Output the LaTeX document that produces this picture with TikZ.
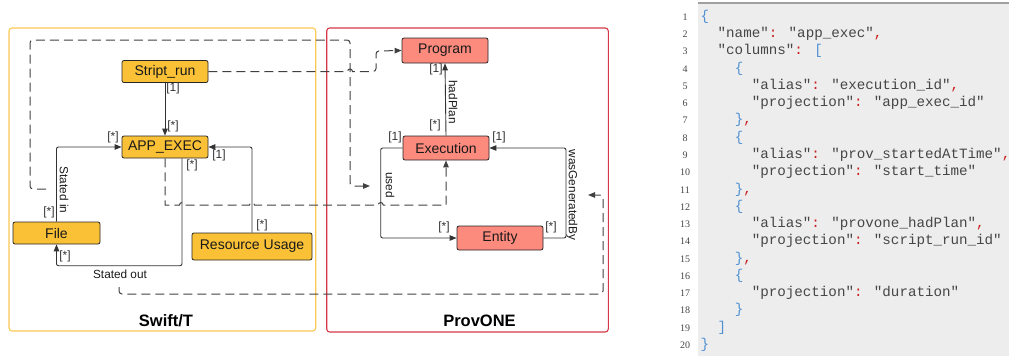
\documentclass[tikz,border=0pt]{standalone}
\usepackage{fontspec}
\setmainfont{Liberation Sans}
\newfontfamily\codefont{Liberation Mono}
\newfontfamily\numfont{Liberation Serif}
\usetikzlibrary{arrows.meta,calc}
\definecolor{yfill}{RGB}{250,193,55}
\definecolor{rfill}{RGB}{252,138,125}
\definecolor{yborder}{RGB}{250,200,85}
\definecolor{rborder}{RGB}{212,55,70}
\definecolor{ctext}{RGB}{70,70,70}
\definecolor{cred}{RGB}{200,30,30}
\definecolor{cblue}{RGB}{80,145,210}
\definecolor{cbg}{RGB}{237,237,237}
\definecolor{cborder}{RGB}{160,160,160}
\newcommand\rp[1]{\textcolor{cred}{#1}}
\newcommand\bp[1]{\textcolor{cblue}{#1}}
\tikzset{
  box/.style={draw=black!85, line width=0.8pt, rounded corners=2pt, inner sep=0pt,
    text=black!90, font=\fontsize{14}{16}\selectfont, minimum width=86pt},
  ybox/.style={box, fill=yfill},
  rbox/.style={box, fill=rfill},
  conn/.style={draw=black!80, line width=0.9pt, rounded corners=2pt},
  arr/.style={-{Triangle[length=7pt,width=5.5pt]}},
  dashline/.style={draw=black!75, line width=1pt, dash pattern=on 9pt off 5pt},
  mult/.style={font=\fontsize{12}{13}\selectfont, text=black!80, inner sep=0pt},
  rel/.style={font=\fontsize{11.8}{13}\selectfont, text=black!90, inner sep=0pt},
  title/.style={font=\bfseries\fontsize{16.5}{18}\selectfont, anchor=base, inner sep=0pt},
  codeline/.style={anchor=base west, inner sep=0pt, font=\codefont\fontsize{14.2}{17}\selectfont, text=ctext},
  lnum/.style={anchor=base, inner sep=0pt, font=\numfont\fontsize{10}{12}\selectfont, text=ctext}
}
\begin{document}
\begin{tikzpicture}[x=1pt,y=-1pt]
\useasboundingbox (0,0) rectangle (1009,356);

% group frames
\draw[yborder, line width=1.1pt, rounded corners=3pt] (9,28) rectangle (315.7,331);
\draw[rborder, line width=1.1pt, rounded corners=3pt] (326.7,28) rectangle (608.3,332);
\node[title] (tsw) at (166,326) {Swift/T};
\node[title] (tpo) at (479.5,326.5) {ProvONE};

% nodes
\node[ybox, minimum height=22pt] (sr) at (165,71.5) {Stript\_run};
\node[ybox, minimum height=22pt] (ae) at (165,147) {APP\_EXEC};
\node[ybox, minimum width=87pt, minimum height=22pt] (fi) at (56.5,233) {File};
\node[ybox, minimum width=120pt, minimum height=27pt] (ru) at (252,246.5) {Resource Usage};
\node[rbox, minimum height=25pt] (pr) at (445,50.5) {Program};
\node[rbox, minimum height=24pt] (ex) at (446,148) {Execution};
\node[rbox, minimum height=24pt] (en) at (500,238) {Entity};

% solid connectors
\draw[conn, arr] (sr.south) -- (ae.north);
\draw[conn, arr] (fi.north) |- (ae.west);
\draw[conn, arr] ([xshift=17pt]ae.south) -- (182,265.7) -| (fi.south);
\draw[conn, arr] (ru.north) |- (ae.east);
\draw[conn, arr] (ex.north) -- (pr.south);
\draw[conn, arr] (ex.west) -- (380.7,148) |- (en.west);
\draw[conn, arr] (en.east) -- (566,238) |- (ex.east);

% dashed mappings
\coordinate (d2s) at (46,189);
\coordinate (d2e) at (370,186);
\coordinate (d4s) at (119,287);
\coordinate (d4e) at (588,195);
\draw[dashline, arr] (sr.east) -- (347.5,71.5) arc[start angle=180, end angle=0, radius=2.5pt]
  [rounded corners=3pt] -- (376,71.5) -- (376,51) -- (pr.west);
\draw[dashline, arr, rounded corners=3pt] (d2s) -- (30,189) -- (30,40) -- (350,40) -- (350,186) -- (d2e);
\draw[dashline, arr] (ae.south) -- (165,205) -- (179.5,205) arc[start angle=180, end angle=0, radius=2.5pt]
  -- (249.5,205) arc[start angle=180, end angle=0, radius=2.5pt]
  -- (378.2,205) arc[start angle=180, end angle=0, radius=2.5pt]
  -- (446,205) -- (ex.south);
\draw[dashline, arr, rounded corners=3pt] (d4s) -- (119,294) -- (603,294) -- (603,195) -- (d4e);

% multiplicities
\node[mult] (m1) at (173,88) {[1]};
\node[mult] (m2) at (173,126) {[*]};
\node[mult] (m3) at (113,137) {[*]};
\node[mult] (m4) at (49,212) {[*]};
\node[mult] (m5) at (192,165) {[*]};
\node[mult] (m6) at (65,256) {[*]};
\node[mult] (m7) at (219,155) {[1]};
\node[mult] (m8) at (262,225) {[*]};
\node[mult] (m9) at (436,69) {[1]};
\node[mult] (m10) at (435,125) {[*]};
\node[mult] (m11) at (395,137) {[1]};
\node[mult] (m12) at (444,227) {[*]};
\node[mult] (m13) at (499,137) {[1]};
\node[mult] (m14) at (551,227) {[*]};

% relation labels
\node[rel, rotate=-90] (l1) at (64,190) {Stated in};
\node[rel] (l2) at (120,274) {Stated out};
\node[rel, rotate=-90] (l3) at (453,102) {hadPlan};
\node[rel, rotate=-90] (l4) at (390,185) {used};
\node[rel, rotate=-90] (l5) at (572,195) {wasGeneratedBy};

% code panel
\fill[cbg] (697.5,3) rectangle (1009,356);
\draw[cborder, line width=1.6pt] (697.5,3) -- (1009,3);
\foreach \i in {1,...,20} \node[lnum] (n\i) at (685, {20.2+(\i-1)*17.28}) {\i};
\node[codeline] (c1) at (700.5,20.2) {\bp{\{}};
\node[codeline] (c2) at (717.5,37.48) {"name"\rp{:} "app\_exec"\rp{,}};
\node[codeline] (c3) at (717.5,54.76) {"columns"\rp{:} \bp{[}};
\node[codeline] (c4) at (734.6,72.04) {\bp{\{}};
\node[codeline] (c5) at (751.6,89.32) {"alias"\rp{:} "execution\_id"\rp{,}};
\node[codeline] (c6) at (751.6,106.6) {"projection"\rp{:} "app\_exec\_id"};
\node[codeline] (c7) at (734.6,123.88) {\bp{\}}\rp{,}};
\node[codeline] (c8) at (734.6,141.16) {\bp{\{}};
\node[codeline] (c9) at (751.6,158.44) {"alias"\rp{:} "prov\_startedAtTime"\rp{,}};
\node[codeline] (c10) at (751.6,175.72) {"projection"\rp{:} "start\_time"};
\node[codeline] (c11) at (734.6,193.0) {\bp{\}}\rp{,}};
\node[codeline] (c12) at (734.6,210.28) {\bp{\{}};
\node[codeline] (c13) at (751.6,227.56) {"alias"\rp{:} "provone\_hadPlan"\rp{,}};
\node[codeline] (c14) at (751.6,244.84) {"projection"\rp{:} "script\_run\_id"};
\node[codeline] (c15) at (734.6,262.12) {\bp{\}}\rp{,}};
\node[codeline] (c16) at (734.6,279.4) {\bp{\{}};
\node[codeline] (c17) at (751.6,296.68) {"projection"\rp{:} "duration"};
\node[codeline] (c18) at (734.6,313.96) {\bp{\}}};
\node[codeline] (c19) at (717.5,331.24) {\bp{]}};
\node[codeline] (c20) at (700.5,348.52) {\bp{\}}};
\end{tikzpicture}
\end{document}
